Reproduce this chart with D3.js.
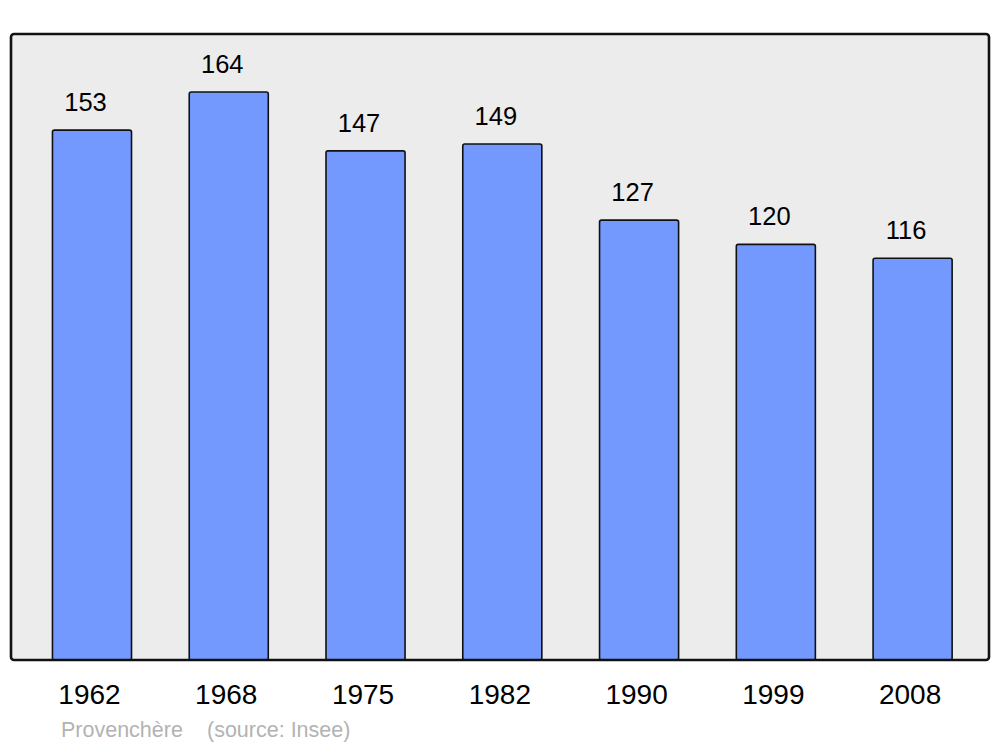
<!DOCTYPE html>
<html>
<head>
<meta charset="utf-8">
<script src="https://cdn.jsdelivr.net/npm/d3@7"></script>
<style>
html,body{margin:0;padding:0;background:#fff;}
svg{display:block;}
</style>
</head>
<body>
<script>
const years = ["1962", "1968", "1975", "1982", "1990", "1999", "2008"];
const population = [153, 164, 147, 149, 127, 120, 116];
const placeName = "Provenchère";
const sourceText = "(source: Insee)";

const W = 1000, H = 747;
const svg = d3.select("body").append("svg").attr("width", W).attr("height", H);

const panel = {x0: 11, y0: 34, x1: 989, y1: 660};

const x = d3.scaleBand().domain(years).range([23.6, 981]).paddingInner(0.422).paddingOuter(0.211);
const y = d3.scaleLinear().domain([0, 180.75]).range([panel.y1, panel.y0]);

// background panel
svg.append("rect")
  .attr("x", panel.x0).attr("y", panel.y0)
  .attr("width", panel.x1 - panel.x0).attr("height", panel.y1 - panel.y0)
  .attr("rx", 3).attr("ry", 3)
  .attr("fill", "#ececec");

const data = years.map((yr, i) => ({year: yr, value: population[i]}));

// bars
svg.append("g").selectAll("rect").data(data).join("rect")
  .attr("x", d => x(d.year))
  .attr("y", d => y(d.value))
  .attr("width", x.bandwidth())
  .attr("height", d => y(0) - y(d.value))
  .attr("rx", 2).attr("ry", 2)
  .attr("fill", "#7399ff")
  .attr("stroke", "#111")
  .attr("stroke-width", 1.6);

// panel border on top
svg.append("rect")
  .attr("x", panel.x0).attr("y", panel.y0)
  .attr("width", panel.x1 - panel.x0).attr("height", panel.y1 - panel.y0)
  .attr("rx", 3).attr("ry", 3)
  .attr("fill", "none")
  .attr("stroke", "#111")
  .attr("stroke-width", 2.6);

// value labels
svg.append("g").selectAll("text").data(data).join("text")
  .attr("x", d => x(d.year) + x.bandwidth() / 2 - 6.5)
  .attr("y", d => y(d.value) - 19)
  .attr("text-anchor", "middle")
  .attr("font-family", "Liberation Sans, Arial, sans-serif")
  .attr("font-size", 25.5)
  .attr("fill", "#000")
  .text(d => d.value);

// year axis
const xAxis = svg.append("g")
  .attr("transform", `translate(-2.5,${panel.y1})`)
  .call(d3.axisBottom(x).tickSize(0).tickPadding(0));
xAxis.select(".domain").remove();
xAxis.selectAll("text")
  .attr("y", 44)
  .attr("dy", 0)
  .attr("font-family", "Liberation Sans, Arial, sans-serif")
  .attr("font-size", 28)
  .attr("fill", "#000");

// source line
svg.append("text")
  .attr("x", 61).attr("y", 737)
  .attr("font-family", "Liberation Sans, Arial, sans-serif")
  .attr("font-size", 21.5)
  .attr("fill", "#b3b3b3")
  .text(placeName);
svg.append("text")
  .attr("x", 207).attr("y", 737)
  .attr("font-family", "Liberation Sans, Arial, sans-serif")
  .attr("font-size", 21.5)
  .attr("fill", "#b3b3b3")
  .text(sourceText);
</script>
</body>
</html>
